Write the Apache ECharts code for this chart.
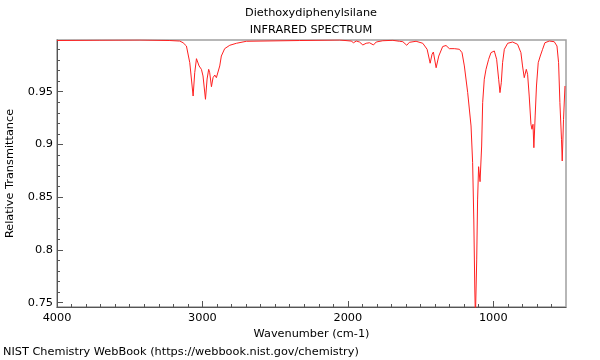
<!DOCTYPE html>
<html>
<head>
<meta charset="utf-8">
<script src="https://cdn.jsdelivr.net/npm/echarts@6/dist/echarts.min.js"></script>
<style>html,body{margin:0;padding:0;background:#fff}#c{width:600px;height:360px}</style>
</head>
<body>
<div id="c"></div>
<script>
// Wavenumber (cm-1) values
var wavenumbers = [4000,3705,3430,3224,3156,3133,3110,3087,3064,3053,3041,3023,3007,2996,2979,2968,2957,2950,2938,2927,2915,2904,2893,2881,2870,2847,2812,2766,2698,2332,2057,1977,1961,1942,1920,1897,1874,1851,1824,1805,1760,1691,1645,1622,1595,1577,1531,1485,1455,1434,1421,1412,1393,1375,1348,1325,1302,1268,1233,1215,1199,1176,1153,1142,1134,1127,1123,1114,1108,1101,1091,1080,1073,1062,1050,1032,1016,993,977,963,954,945,936,924,901,867,833,810,799,787,773,764,753,741,734,727,721,712,703,691,677,661,645,615,581,562,551,542,531,526,517,507];
// Relative transmittance values
var transmittance = [0.9985,0.9988,0.999,0.9985,0.998,0.9964,0.9933,0.9775,0.9459,0.968,0.9813,0.9744,0.9712,0.9649,0.9428,0.962,0.9712,0.968,0.9547,0.9633,0.9658,0.9633,0.9649,0.9744,0.9838,0.9908,0.994,0.9959,0.9978,0.9985,0.999,0.998,0.9964,0.998,0.9971,0.9943,0.9959,0.9964,0.9943,0.9971,0.9983,0.9987,0.9978,0.9974,0.994,0.9968,0.9978,0.9959,0.9902,0.977,0.9855,0.9876,0.9727,0.9838,0.9928,0.9938,0.9908,0.9908,0.9902,0.987,0.9744,0.9491,0.9175,0.8827,0.8284,0.762,0.735,0.7905,0.8474,0.8789,0.8647,0.8985,0.9396,0.9618,0.9712,0.9807,0.987,0.9886,0.9807,0.9618,0.9491,0.9585,0.9775,0.9902,0.9959,0.9971,0.9949,0.987,0.9744,0.9633,0.9712,0.9665,0.9459,0.9191,0.9144,0.9191,0.8969,0.927,0.9554,0.9775,0.9838,0.9902,0.9964,0.998,0.9974,0.9933,0.9775,0.9396,0.9049,0.8843,0.9238,0.9554];
var xTickLabels = [4000,3000,2000,1000];
var yTickLabels = [0.75,0.8,0.85,0.9,0.95];
var chartTitle = 'Diethoxydiphenylsilane';
var chartSubtitle = 'INFRARED SPECTRUM';
var footer = 'NIST Chemistry WebBook (https://webbook.nist.gov/chemistry)';

var xMin = 500, xMax = 4000, yMin = 0.7459, yMax = 0.999;
var xMinor = [];
for (var w = 600; w < 4000; w += 100) { if (w % 1000 !== 0) xMinor.push(w); }
var yMinor = [];
for (var k = 75; k <= 99; k++) { if (k % 5 !== 0) yMinor.push(k / 100); }

var pts = wavenumbers.map(function (w, i) { return [w, transmittance[i]]; });
var FONT = 'DejaVu Sans';
var FS = 11.3;
var axisCol = '#555';

var chart = echarts.init(document.getElementById('c'), null, {renderer: 'canvas'});
chart.setOption({
  animation: false,
  backgroundColor: '#fff',
  grid: {left: 57, right: 34, top: 40, bottom: 53, containLabel: false, outerBoundsMode: 'none',
    show: true, borderColor: '#a0a0a0', borderWidth: 1.5, backgroundColor: 'transparent'},
  xAxis: [{
    type: 'value', min: xMin, max: xMax, inverse: true, position: 'bottom',
    name: 'Wavenumber (cm-1)', nameLocation: 'middle', nameGap: 19,
    nameTextStyle: {color: '#000', fontFamily: FONT, fontSize: FS},
    axisLine: {show: true, onZero: false, lineStyle: {color: axisCol, width: 1}},
    axisTick: {show: true, inside: true, length: 6, customValues: xTickLabels, lineStyle: {color: axisCol}},
    axisLabel: {show: true, customValues: xTickLabels, color: '#000', fontFamily: FONT, fontSize: FS, margin: 6,
      formatter: function (v) { return String(v); }},
    splitLine: {show: false}
  }, {
    type: 'value', min: xMin, max: xMax, inverse: true, position: 'bottom',
    axisLine: {show: false},
    axisTick: {show: true, inside: true, length: 3, customValues: xMinor, lineStyle: {color: axisCol}},
    axisLabel: {show: false},
    splitLine: {show: false}
  }],
  yAxis: [{
    type: 'value', min: yMin, max: yMax, position: 'left',
    name: 'Relative Transmittance', nameLocation: 'middle', nameGap: 41,
    nameTextStyle: {color: '#000', fontFamily: FONT, fontSize: FS},
    axisLine: {show: true, onZero: false, lineStyle: {color: axisCol, width: 1}},
    axisTick: {show: true, inside: true, length: 6, customValues: yTickLabels, lineStyle: {color: axisCol}},
    axisLabel: {show: true, customValues: yTickLabels, color: '#000', fontFamily: FONT, fontSize: FS, margin: 4,
      formatter: function (v) { return String(v); }},
    splitLine: {show: false}
  }, {
    type: 'value', min: yMin, max: yMax, position: 'left',
    axisLine: {show: false},
    axisTick: {show: true, inside: true, length: 3, customValues: yMinor, lineStyle: {color: axisCol}},
    axisLabel: {show: false},
    splitLine: {show: false}
  }],
  graphic: [
    {type: 'text', x: 311, y: 13, style: {text: chartTitle, fill: '#000', font: FS + 'px "DejaVu Sans"', textAlign: 'center', textVerticalAlign: 'middle'}},
    {type: 'text', x: 311, y: 30, style: {text: chartSubtitle, fill: '#000', font: FS + 'px "DejaVu Sans"', textAlign: 'center', textVerticalAlign: 'middle'}},
    {type: 'text', x: 3, y: 352, style: {text: footer, fill: '#000', font: FS + 'px "DejaVu Sans"', textAlign: 'left', textVerticalAlign: 'middle'}}
  ],
  series: [{
    type: 'line', xAxisIndex: 0, yAxisIndex: 0, data: pts,
    showSymbol: false, symbol: 'none', smooth: false, clip: true,
    lineStyle: {color: '#ff2020', width: 1}
  }]
});
</script>
</body>
</html>
